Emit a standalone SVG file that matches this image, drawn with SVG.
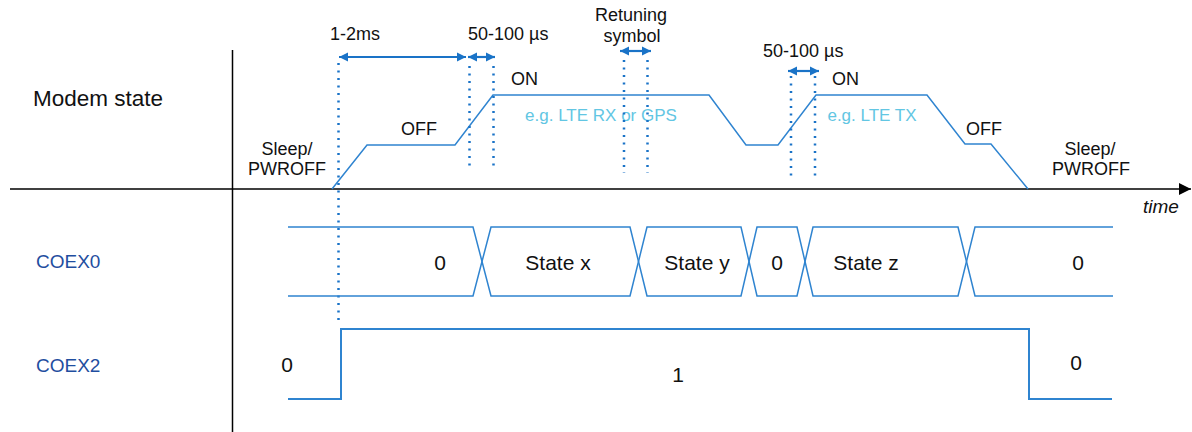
<svg xmlns="http://www.w3.org/2000/svg" width="1192" height="432" viewBox="0 0 1192 432">
<defs>
<marker id="ah" viewBox="0 0 10 10" refX="10" refY="5" markerUnits="userSpaceOnUse" markerWidth="9" markerHeight="11" orient="auto-start-reverse"><path d="M0,0 L10,5 L0,10 z" fill="#1a73c7"/></marker>
<marker id="axh" viewBox="0 0 10 10" refX="10" refY="5" markerUnits="userSpaceOnUse" markerWidth="12" markerHeight="13" orient="auto"><path d="M0,0 L10,5 L0,10 z" fill="#000"/></marker>
</defs>
<style>
text{font-family:"Liberation Sans",Arial,sans-serif;fill:#111}
.s{font-size:18px}
.b{font-size:21px}
.m{text-anchor:middle}
.cy{fill:#62c6e3;font-size:17px;text-anchor:middle}
.sig{font-size:19px;fill:#1f4ea0}
.ax{stroke:#000;stroke-width:1.5;fill:none}
.w{stroke:#2f84d0;stroke-width:1.5;fill:none}
.dot{stroke:#1a73c7;stroke-width:2.5;stroke-dasharray:2 5.5;fill:none}
.arr{stroke:#1a73c7;stroke-width:2.2;fill:none;marker-start:url(#ah);marker-end:url(#ah)}
</style>
<rect width="1192" height="432" fill="#fff"/>
<g id="axes">
<line class="ax" x1="232.5" y1="50" x2="232.5" y2="432"/>
<line class="ax" x1="10" y1="189" x2="1191" y2="189" marker-end="url(#axh)"/>
<text x="1143" y="213" style="font-size:19px;font-style:italic">time</text>
</g>
<g id="labels">
<text class="b" x="33" y="106" style="font-size:22.5px">Modem state</text>
<text class="sig" x="36" y="268">COEX0</text>
<text class="sig" x="36" y="372">COEX2</text>
</g>
<g id="modem-state">
<polyline class="w" points="332,189 367,145 455,145 493,95 709,95 746,145 778,145 816,95 927,95 965,144 991,144 1028,189"/>
<text class="s m" x="287" y="155">Sleep/</text>
<text class="s m" x="287" y="175">PWROFF</text>
<text class="s m" x="419" y="135">OFF</text>
<text class="s" x="511" y="85">ON</text>
<text class="cy" x="601" y="121">e.g. LTE RX or GPS</text>
<text class="s" x="832" y="85">ON</text>
<text class="cy" x="872" y="121">e.g. LTE TX</text>
<text class="s m" x="984" y="135">OFF</text>
<text class="s m" x="1090" y="155">Sleep/</text>
<text class="s m" x="1091" y="175">PWROFF</text>
</g>
<g id="connectors">
<line class="dot" x1="338.5" y1="63" x2="338.5" y2="325"/>
<line class="dot" x1="469.5" y1="66" x2="469.5" y2="166"/>
<line class="dot" x1="493.5" y1="66" x2="493.5" y2="166"/>
<line class="dot" x1="624" y1="60" x2="624" y2="173"/>
<line class="dot" x1="647.5" y1="60" x2="647.5" y2="173"/>
<line class="dot" x1="791" y1="76" x2="791" y2="181"/>
<line class="dot" x1="815" y1="76" x2="815" y2="181"/>
<line class="arr" x1="339" y1="57" x2="466" y2="57"/>
<line class="arr" x1="468" y1="57" x2="495" y2="57"/>
<line class="arr" x1="620" y1="51" x2="651" y2="51"/>
<line class="arr" x1="788" y1="71" x2="819" y2="71"/>
</g>
<g id="timing-labels">
<text class="s" x="330" y="40">1-2ms</text>
<text class="s" x="468" y="40">50-100 µs</text>
<text class="s m" x="631" y="21">Retuning</text>
<text class="s m" x="632" y="42">symbol</text>
<text class="s" x="763" y="57">50-100 µs</text>
</g>
<g id="coex0">
<path class="w" d="M288,227 H473 L482,261.5 L473,296 H288"/>
<path class="w" d="M482,261.5 L491,227 H630 L638.5,261.5 L630,296 H491 Z"/>
<path class="w" d="M638.5,261.5 L647,227 H741 L749,261.5 L741,296 H647 Z"/>
<path class="w" d="M749,261.5 L757,227 H797 L805,261.5 L797,296 H757 Z"/>
<path class="w" d="M805,261.5 L813,227 H958 L966.5,261.5 L958,296 H813 Z"/>
<path class="w" d="M1113,227 H975 L966.5,261.5 L975,296 H1113"/>
<text class="b m" x="440" y="270">0</text>
<text class="b m" x="558" y="270">State x</text>
<text class="b m" x="697" y="270">State y</text>
<text class="b m" x="777" y="270">0</text>
<text class="b m" x="866" y="270">State z</text>
<text class="b m" x="1078" y="270">0</text>
</g>
<g id="coex2">
<polyline class="w" points="288,399 341,399 341,329 1029,329 1029,399 1112,399" style="stroke-width:2"/>
<text class="b m" x="287" y="372">0</text>
<text class="b m" x="678" y="382">1</text>
<text class="b m" x="1076" y="370">0</text>
</g>
</svg>
